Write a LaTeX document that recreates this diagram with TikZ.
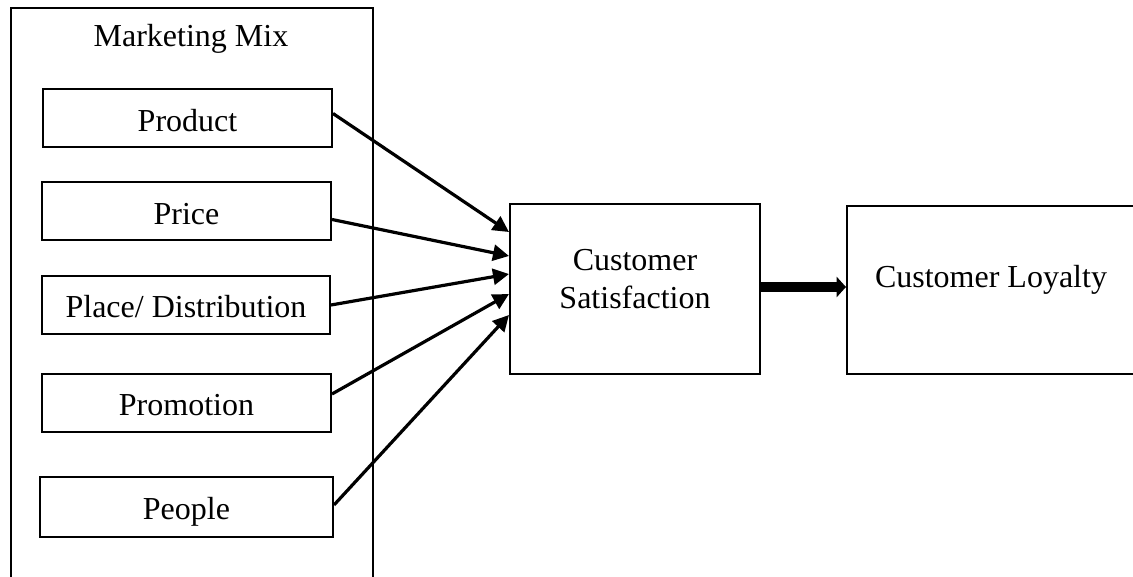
\documentclass[tikz,border=0pt]{standalone}
\usepackage{fontspec}
\setmainfont{Liberation Serif}
\usetikzlibrary{arrows.meta,calc}

\begin{document}
\begin{tikzpicture}[x=0.75pt,y=-0.75pt,
  every node/.style={font=\fontsize{24}{28.5}\selectfont},
  frame/.style={draw,line width=1.5pt,inner sep=0pt},
  mixbox/.style={frame,minimum height=43.5pt,text height=19pt,text depth=0pt},
  txt/.style={inner sep=0pt,align=center},
  link/.style={line width=2.4pt,-{Triangle[length=12pt,width=12pt]}},
  bold link/.style={line width=7.5pt,-{Triangle[length=7pt,width=15pt]}}]

  \useasboundingbox (0,0) rectangle (1133,577);

  % outer Marketing Mix frame (runs past the lower edge)
  \node[frame,anchor=north west,minimum width=271.5pt,minimum height=480pt] (mix) at (10,7) {};
  \node[txt] (mixtitle) at (191,39) {Marketing Mix};

  % the five elements of the mix
  \node[mixbox,minimum width=216.75pt] (prod)   at (187.5,118.5) {Product};
  \node[mixbox,minimum width=216.75pt] (price)  at (186.5,211.5) {Price};
  \node[mixbox,minimum width=216pt]    (place)  at (186,305)     {Place/ Distribution};
  \node[mixbox,minimum width=216.75pt] (promo)  at (186.5,403)   {Promotion};
  \node[mixbox,minimum width=219.75pt,minimum height=45pt] (people) at (186.5,507) {People};

  % outcome boxes
  \node[frame,minimum width=187.5pt,minimum height=127.5pt] (sat) at (635,289) {};
  \node[txt] (sattext) at (635,279) {Customer\\Satisfaction};
  \node[frame,minimum width=216pt,minimum height=126pt] (loy) at (991,290) {};
  \node[txt] (loytext) at (991,280) {Customer Loyalty};

  % influences on satisfaction
  \draw[link] ($(prod.east)+(0,-5)$)  -- ($(sat.west)+(0,-57)$);
  \draw[link] ($(price.east)+(0,8)$)  -- ($(sat.west)+(0,-33)$);
  \draw[link] ($(place.east)+(0,0)$)  -- ($(sat.west)+(0,-15)$);
  \draw[link] ($(promo.east)+(0,-9)$) -- ($(sat.west)+(0,5)$);
  \draw[link] ($(people.east)+(0,-2)$) -- ($(sat.west)+(0,26)$);

  % satisfaction leads to loyalty
  \draw[bold link] ($(sat.east)+(0,-2)$) -- ($(loy.west)+(0,-3)$);
\end{tikzpicture}
\end{document}
